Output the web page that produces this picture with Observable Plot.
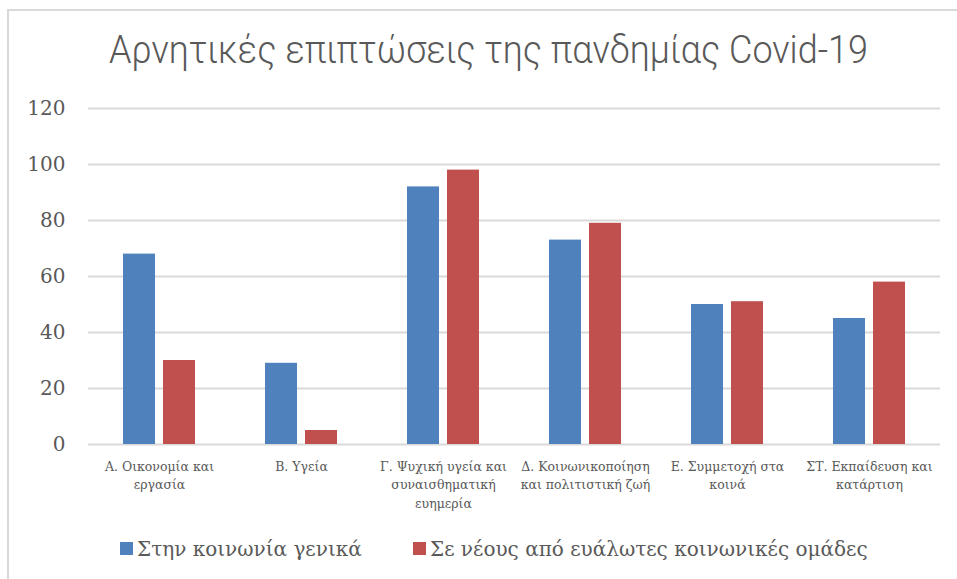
<!DOCTYPE html>
<html>
<head>
<meta charset="utf-8">
<script src="https://cdn.jsdelivr.net/npm/d3@7"></script>
<script src="https://cdn.jsdelivr.net/npm/@observablehq/plot@0.6"></script>
<style>
  html, body { margin: 0; padding: 0; background: #fff; }
  #wrap { position: relative; width: 957px; height: 579px; overflow: hidden; }
  #frame { position: absolute; left: 7px; top: 9px; width: 1000px; height: 700px; border: 2px solid #d9d9d9; box-sizing: border-box; }
  #title { position: absolute; left: 0; width: 977px; top: 29px; text-align: center;
           font-family: "Roboto", sans-serif; font-weight: 300; font-size: 36px; line-height: 46px; color: #595959;
           transform: scaleY(1.08); transform-origin: center bottom; }
  #chart { position: absolute; left: 0; top: 0; }
  .leg { position: absolute; top: 536px; font-family: "DejaVu Serif", serif; font-size: 20px; line-height: 26px; color: #595959; white-space: nowrap; }
  .sw { position: absolute; width: 13px; height: 13px; top: 542px; }
</style>
</head>
<body>
<div id="wrap">
  <div id="frame"></div>
  <div id="title"></div>
  <div id="chart"></div>
  <div class="sw" id="sw0"></div><div class="leg" id="lg0"></div>
  <div class="sw" id="sw1"></div><div class="leg" id="lg1"></div>
</div>
<script>
const titleText = "Αρνητικές επιπτώσεις της πανδημίας Covid-19";
const categories = ["A", "B", "C", "D", "E", "F"];
const categoryLabels = [
  "Α. Οικονομία και\nεργασία",
  "Β. Υγεία",
  "Γ. Ψυχική υγεία και\nσυναισθηματική\nευημερία",
  "Δ. Κοινωνικοποίηση\nκαι πολιτιστική ζωή",
  "Ε. Συμμετοχή στα\nκοινά",
  "ΣΤ. Εκπαίδευση και\nκατάρτιση"
];
const seriesNames = ["Στην κοινωνία γενικά", "Σε νέους από ευάλωτες κοινωνικές ομάδες"];
const seriesColors = ["#4f81bd", "#c0504d"];
const generalValues = [68, 29, 92, 73, 50, 45];
const vulnerableValues = [30, 5, 98, 79, 51, 58];
const yTicks = [0, 20, 40, 60, 80, 100, 120];

const data = categories.flatMap((c, i) => [
  {cat: c, series: seriesNames[0], value: generalValues[i]},
  {cat: c, series: seriesNames[1], value: vulnerableValues[i]}
]);
const labelOf = new Map(categories.map((c, i) => [c, categoryLabels[i]]));

document.getElementById("title").textContent = titleText;

const chart = Plot.plot({
  width: 957,
  height: 579,
  marginLeft: 88,
  marginRight: 17,
  marginTop: 108,
  marginBottom: 135,
  style: {fontFamily: "'DejaVu Serif', serif", color: "#595959", background: "transparent"},
  fx: {domain: categories, paddingInner: 0, paddingOuter: 0, label: null, axis: null},
  x: {domain: seriesNames, axis: null, paddingInner: 0.2, paddingOuter: 0.875},
  y: {domain: [0, 120], axis: null},
  color: {domain: seriesNames, range: seriesColors},
  marks: [
    Plot.gridY(yTicks, {stroke: "#d9d9d9", strokeOpacity: 1, strokeWidth: 2}),
    Plot.axisY(yTicks, {tickSize: 0, tickPadding: 23, fontSize: 20, fill: "#595959", label: null}),
    Plot.barY(data, {fx: "cat", x: "series", y: "value", fill: "series"}),
    Plot.axisFx({anchor: "bottom", tickSize: 0, tickPadding: 14, fontSize: 12.5, lineHeight: 1.45, fill: "#595959", label: null,
                 tickFormat: d => labelOf.get(d)})
  ]
});
document.getElementById("chart").appendChild(chart);

const swX = [120, 413];
const lgX = [137, 430];
seriesNames.forEach((s, i) => {
  const sw = document.getElementById("sw" + i);
  sw.style.left = swX[i] + "px";
  sw.style.background = seriesColors[i];
  const lg = document.getElementById("lg" + i);
  lg.style.left = lgX[i] + "px";
  lg.textContent = s;
});
</script>
</body>
</html>
